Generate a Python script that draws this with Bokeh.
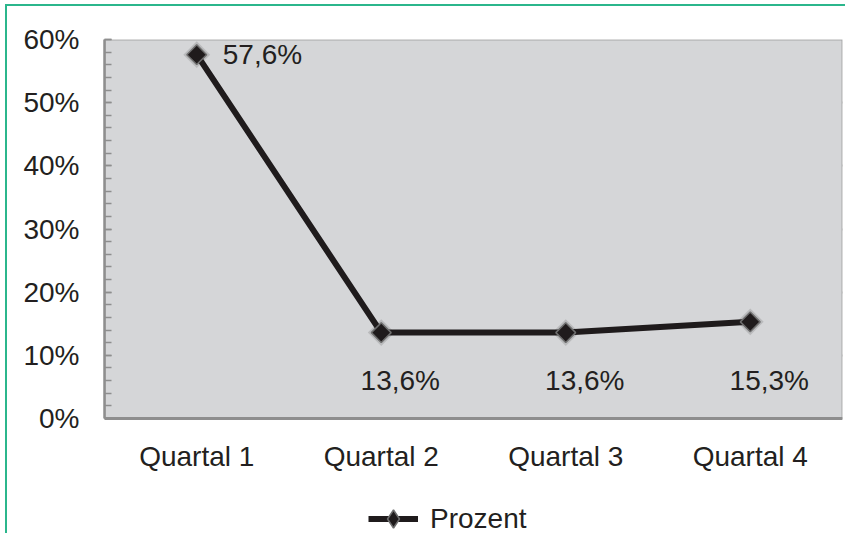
import math
from bokeh.plotting import figure
from bokeh.models import (FactorRange, Range1d, SingleIntervalTicker, PrintfTickFormatter,
                          ColumnDataSource, Legend, LegendItem, Span, BoxAnnotation)
from bokeh.core.properties import value
from bokeh.embed import file_html
from bokeh.resources import INLINE

categories = ["Quartal 1", "Quartal 2", "Quartal 3", "Quartal 4"]
prozent = [57.6, 13.6, 13.6, 15.3]
series_name = "Prozent"
y_min, y_max = 0, 60

FONT = value("Liberation Sans")
FS = "28px"
TXT = "#231f20"
labels = [f"{v:.1f}".replace(".", ",") + "%" for v in prozent]

p = figure(x_range=FactorRange(*categories, range_padding=0), y_range=Range1d(-18.52, y_max),
           width=840, height=529, output_backend="svg", toolbar_location=None,
           x_axis_location=None,
           min_border_left=97, min_border_right=5, min_border_top=33, min_border_bottom=0)
p.styles = {"margin-left": "5px", "margin-top": "4px",
            "border-top": "2px solid #2bb68c", "border-left": "2px solid #2bb68c"}

p.background_fill_color = "white"
p.border_fill_color = "white"
p.outline_line_color = None
for g in p.xgrid:
    g.visible = False

# plot area
p.add_layout(BoxAnnotation(bottom=y_min, top=y_max, fill_color="#d5d6d8", fill_alpha=1,
                           line_color="#3a3a3a", line_width=2, level="underlay"))

p.ygrid.grid_line_color = "#9d9d9d"
p.ygrid.grid_line_width = 2

yax = p.yaxis[0]
yax.bounds = (y_min, y_max)
yax.ticker = SingleIntervalTicker(interval=10, num_minor_ticks=5)
yax.formatter = PrintfTickFormatter(format="%d%%")
yax.axis_line_color = "#8e8e8e"
yax.axis_line_width = 2.5
yax.major_tick_line_color = "#8e8e8e"
yax.major_tick_line_width = 1.5
yax.major_tick_in = 7
yax.major_tick_out = 0
yax.minor_tick_line_color = "#8e8e8e"
yax.minor_tick_line_width = 1.5
yax.minor_tick_in = 7
yax.minor_tick_out = 0
yax.major_label_standoff = 25
yax.major_label_text_font = "Liberation Sans"
yax.major_label_text_font_size = FS
yax.major_label_text_color = TXT

# bottom (category) axis line
p.add_layout(Span(location=y_min, dimension="width", line_color="#8e8e8e", line_width=3))

src = ColumnDataSource(dict(x=categories, y=prozent, label=labels))
cat_src = ColumnDataSource(dict(x=categories, y=[y_min] * len(categories)))
p.text("x", "y", text="x", source=cat_src, y_offset=38, text_align="center",
       text_baseline="middle", text_font=FONT, text_font_size=FS, text_color=TXT)

p.scatter("x", "y", source=src, marker="square", size=19, angle=math.pi / 4,
          fill_color="#7a7a7a", fill_alpha=0.3, line_color=None)
line_r = p.line("x", "y", source=src, line_color="#1f1b1c", line_width=6)
mark_r = p.scatter("x", "y", source=src, marker="square", size=14, angle=math.pi / 4,
                   fill_color="#1f1b1c", line_color="#6e6e6e", line_width=1.5)
# legend-only symbol (upright diamond)
leg_mark = p.scatter("x", "y", source=src, marker="diamond", size=21,
                     fill_color="#1f1b1c", line_color="#6e6e6e", line_width=1.5)
leg_mark.visible = False

first = ColumnDataSource(dict(x=categories[:1], y=prozent[:1], label=labels[:1]))
rest = ColumnDataSource(dict(x=categories[1:], y=[6.0] * (len(categories) - 1), label=labels[1:]))
p.text("x", "y", text="label", source=first, x_offset=26, text_align="left",
       text_baseline="middle", text_font=FONT, text_font_size=FS, text_color=TXT)
p.text("x", "y", text="label", source=rest, x_offset=19, text_align="center",
       text_baseline="middle", text_font=FONT, text_font_size=FS, text_color=TXT)

legend = Legend(items=[LegendItem(label=series_name, renderers=[line_r, leg_mark])],
                location=(264, -6), orientation="horizontal",
                glyph_width=50, glyph_height=45, label_height=45, label_standoff=12,
                padding=0, margin=0, spacing=0,
                border_line_color=None, background_fill_alpha=0,
                label_text_font="Liberation Sans", label_text_font_size=FS,
                label_text_color=TXT)
p.add_layout(legend)

open("out.html", "w").write(file_html(p, INLINE))
